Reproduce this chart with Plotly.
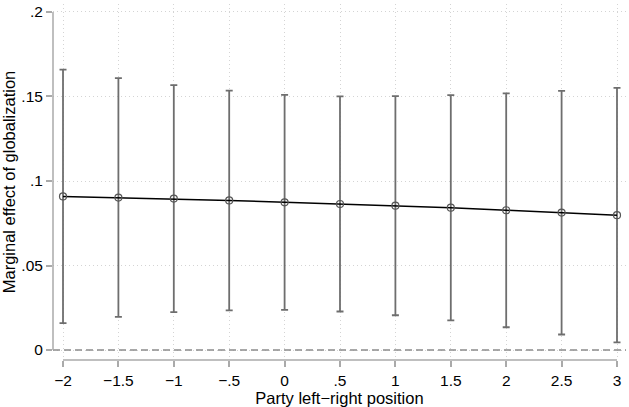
import plotly.graph_objects as go

x_pos = [-2, -1.5, -1, -0.5, 0, 0.5, 1, 1.5, 2, 2.5, 3]
effect = [0.0909, 0.0902, 0.0896, 0.0885, 0.0874, 0.0864, 0.0854, 0.0842, 0.0827, 0.0813, 0.0798]
upper = [0.1659, 0.1608, 0.1567, 0.1535, 0.1510, 0.1500, 0.1502, 0.1508, 0.1518, 0.1533, 0.1551]
lower = [0.0159, 0.0196, 0.0224, 0.0235, 0.0238, 0.0228, 0.0206, 0.0175, 0.0135, 0.0092, 0.0045]
x_ticks = [-2, -1.5, -1, -0.5, 0, 0.5, 1, 1.5, 2, 2.5, 3]
x_ticktext = ["−2", "−1.5", "−1", "−.5", "0", ".5", "1", "1.5", "2", "2.5", "3"]
y_ticks = [0, 0.05, 0.1, 0.15, 0.2]
y_ticktext = ["0", ".05", ".1", ".15", ".2"]

err_plus = [u - e for u, e in zip(upper, effect)]
err_minus = [e - l for e, l in zip(effect, lower)]

fig = go.Figure()
fig.add_trace(go.Scatter(
    x=x_pos, y=effect, mode="markers",
    marker=dict(size=0.1, color="rgba(0,0,0,0)"),
    error_y=dict(type="data", symmetric=False, array=err_plus, arrayminus=err_minus,
                 color="#6e6e6e", thickness=1.8, width=3.5),
    showlegend=False, hoverinfo="skip"))
fig.add_trace(go.Scatter(
    x=x_pos, y=effect, mode="lines+markers",
    line=dict(color="black", width=1.5),
    marker=dict(symbol="circle-open", size=7, color="#555555", line=dict(width=1.2)),
    showlegend=False))

grid = dict(showgrid=True, gridcolor="#d4d4d4", griddash="1px,3px", gridwidth=1, zeroline=False)

fig.update_layout(
    width=629, height=407,
    margin=dict(l=53, r=3, t=3, b=46),
    paper_bgcolor="white", plot_bgcolor="white",
    font=dict(family="Liberation Sans, Arial, sans-serif", color="black", size=15.5),
    xaxis=dict(range=[-2.0903, 3.0812], tickvals=x_ticks, ticktext=x_ticktext,
               ticks="outside", ticklen=6, tickcolor="#aaaaaa", tickwidth=1.5,
               showline=False, title=dict(text="Party left−right position", font=dict(size=16.5), standoff=4),
               **grid),
    yaxis=dict(range=[-0.00588, 0.2047], tickvals=y_ticks, ticktext=y_ticktext,
               ticks="outside", ticklen=6, tickcolor="#aaaaaa", tickwidth=1.5,
               showline=False, title=dict(text="Marginal effect of globalization", font=dict(size=16.5), standoff=5),
               **grid),
    shapes=[
        dict(type="line", xref="paper", yref="y", x0=0, x1=1, y0=0, y1=0,
             line=dict(color="#8c8c8c", width=1.5, dash="7px,4px")),
        dict(type="line", xref="x", yref="paper", x0=-2, x1=3, y0=0, y1=0,
             line=dict(color="#aaaaaa", width=1.5)),
        dict(type="line", xref="paper", yref="y", x0=0, x1=0, y0=0, y1=0.2,
             line=dict(color="#aaaaaa", width=1.5)),
    ],
)

fig.write_html("out.html")
